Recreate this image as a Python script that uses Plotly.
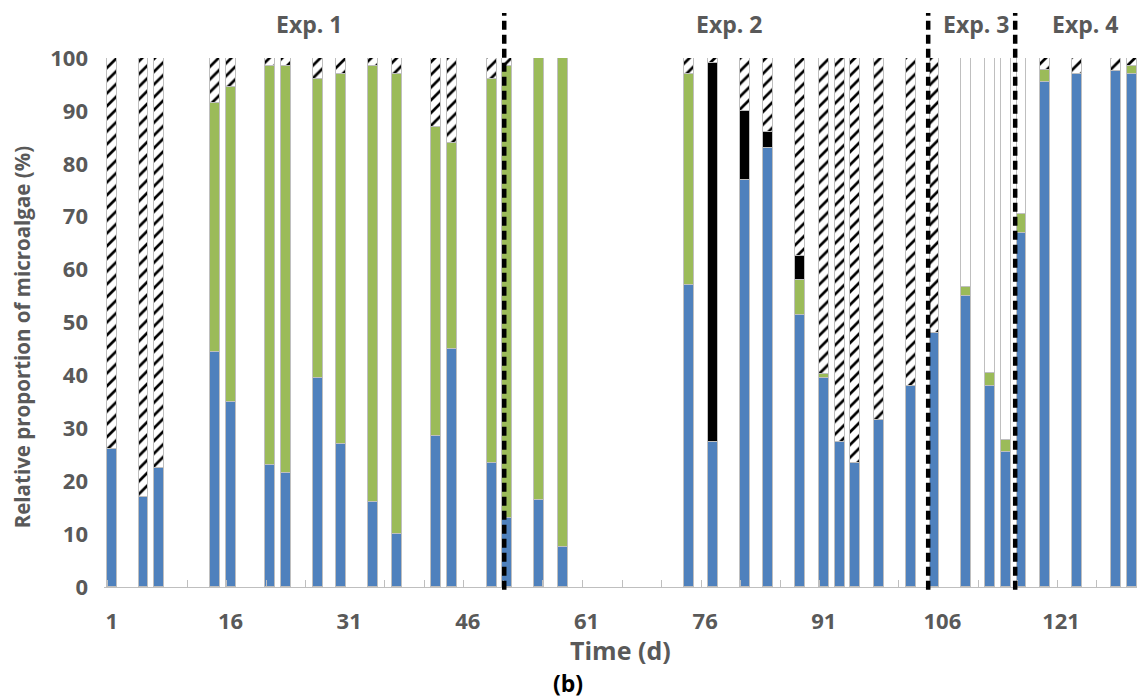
import plotly.graph_objects as go

# ---- data (day of sampling, % of each group) ----
days = [1, 5, 7, 14, 16, 21, 23, 27, 30, 34, 37, 42, 44, 49, 51, 55, 58,
        74, 77, 81, 84, 88, 91, 93, 95, 98, 102, 105,
        109, 112, 114, 116,
        119, 123, 128, 130]

blue = [26, 17, 22.5, 44.5, 35, 23, 21.5, 39.5, 27, 16, 10, 28.5, 45, 23.5, 13, 16.5, 7.5,
        57, 27.5, 77, 83, 51.5, 39.5, 27.5, 23.5, 31.5, 38, 48,
        55, 38, 25.5, 67,
        95.5, 97, 97.5, 97]

green = [0, 0, 0, 47, 59.5, 75.5, 77, 56.5, 70, 82.5, 87, 58.5, 39, 72.5, 85.5, 83.5, 92.5,
         40, 0, 0, 0, 6.5, 0.8, 0, 0, 0, 0, 0,
         1.8, 2.5, 2.3, 3.5,
         2.3, 0, 0, 1.5]

black = [0, 0, 0, 0, 0, 0, 0, 0, 0, 0, 0, 0, 0, 0, 0, 0, 0,
         0, 71.5, 13, 3, 4.5, 0, 0, 0, 0, 0, 0,
         0, 0, 0, 0,
         0, 0, 0, 0]

hatched = [74, 83, 77.5, 8.5, 5.5, 1.5, 1.5, 4, 3, 1.5, 3, 13, 16, 4, 1.5, 0, 0,
           3, 1, 10, 14, 37.5, 59.7, 72.5, 76.5, 68.5, 62, 52,
           0, 0, 0, 0,
           2.2, 3, 2.5, 1.5]

white = [0, 0, 0, 0, 0, 0, 0, 0, 0, 0, 0, 0, 0, 0, 0, 0, 0,
         0, 0, 0, 0, 0, 0, 0, 0, 0, 0, 0,
         43.2, 59.5, 72.2, 29.5,
         0, 0, 0, 0]

x_ticks = [1, 16, 31, 46, 61, 76, 91, 106, 121]
y_ticks = [0, 10, 20, 30, 40, 50, 60, 70, 80, 90, 100]

exp_labels = ["Exp. 1", "Exp. 2", "Exp. 3", "Exp. 4"]
exp_label_days = [25.9, 79, 110.2, 124]
exp_boundaries = [50.6, 104.2, 115.2]

# ---- figure ----
GREY = "#595959"
FONT = "Open Sans"
BORDER = dict(color="#bfbfbf", width=1)
BW = 1.25

fig = go.Figure()
fig.add_bar(x=days, y=blue, width=BW, name="blue",
            marker=dict(color="#4f81bd", line=BORDER))
fig.add_bar(x=days, y=green, width=BW, name="green",
            marker=dict(color="#9bbb59", line=BORDER))
fig.add_bar(x=days, y=black, width=BW, name="black",
            marker=dict(color="#000000", line=BORDER))
fig.add_bar(x=days, y=hatched, width=BW, name="hatched",
            marker=dict(color="white", line=BORDER,
                        pattern=dict(shape="/", fgcolor="#000000", bgcolor="#ffffff",
                                     fgopacity=1, fillmode="replace",
                                     size=9, solidity=0.3)))
fig.add_bar(x=days, y=white, width=BW, name="white",
            marker=dict(color="white", line=BORDER))

for xb in exp_boundaries:
    fig.add_shape(type="line", xref="x", yref="paper", x0=xb, x1=xb, y0=-0.005, y1=1.085,
                  line=dict(color="black", width=4.5, dash="9px,5px"), layer="above")

for lab, d in zip(exp_labels, exp_label_days):
    fig.add_annotation(x=d, y=1.065, xref="x", yref="paper", text=f"<b>{lab}</b>",
                       showarrow=False, font=dict(family=FONT, size=23, color=GREY),
                       xanchor="center", yanchor="middle")

fig.add_annotation(x=0.5, y=-0.12, xref="paper", yref="paper", text="<b>Time (d)</b>",
                   showarrow=False, font=dict(family=FONT, size=25, color=GREY),
                   xanchor="center", yanchor="middle")
fig.add_annotation(x=-0.0794, y=0.472, xref="paper", yref="paper",
                   text="<b>Relative proportion of microalgae (%)</b>", textangle=-90,
                   showarrow=False, font=dict(family=FONT, size=20.5, color=GREY),
                   xanchor="center", yanchor="middle")
fig.add_annotation(x=(568 - 104) / 1033, y=-0.181, xref="paper", yref="paper", text="<b>(b)</b>",
                   showarrow=False, font=dict(family=FONT, size=23, color="black"),
                   xanchor="center", yanchor="middle")

fig.update_layout(
    width=1137, height=700,
    barmode="stack", bargap=0,
    showlegend=False,
    plot_bgcolor="white", paper_bgcolor="white",
    margin=dict(l=104, r=0, t=58, b=113),
    font=dict(family=FONT, size=20, color=GREY),
    xaxis=dict(range=[0, 130.6], tickvals=x_ticks, ticktext=[f"<b>{t}</b>" for t in x_ticks],
               ticks="", showgrid=False, zeroline=False,
               showline=True, linecolor="#bfbfbf", linewidth=1,
               ticklabelstandoff=15,
               tickfont=dict(family=FONT, size=22, color=GREY),
               minor=dict(ticks="inside", tick0=0.5, dtick=5, ticklen=7,
                          tickcolor="#bfbfbf", showgrid=False)),
    yaxis=dict(range=[0, 100], tickvals=y_ticks, ticktext=[f"<b>{t}</b>" for t in y_ticks],
               ticks="", showgrid=False, zeroline=False, showline=False,
               ticklabelstandoff=15,
               tickfont=dict(family=FONT, size=22, color=GREY)),
)

fig.write_html("out.html", config={"displayModeBar": False},
               post_script="document.body.style.margin='0px';")
